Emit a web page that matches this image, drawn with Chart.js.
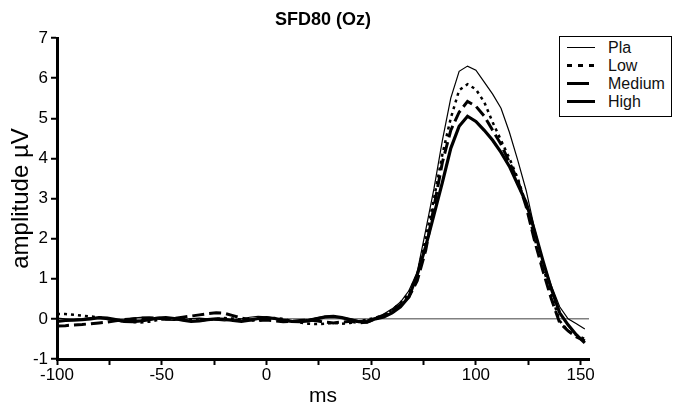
<!DOCTYPE html>
<html>
<head>
<meta charset="utf-8">
<script src="https://cdn.jsdelivr.net/npm/chart.js@4.4.0/dist/chart.umd.min.js"></script>
<style>
  html, body { margin: 0; padding: 0; background: #fff; }
  #wrap { position: relative; width: 676px; height: 409px; }
  #legend {
    position: absolute; left: 559px; top: 36px; width: 113px; height: 81px;
    box-sizing: border-box; border: 1.5px solid #000; background: #fff;
    font-family: "Liberation Sans", Arial, Helvetica, sans-serif; font-size: 16px; color: #111;
  }
  .row { position: absolute; left: 0; height: 18px; display: flex; align-items: center; }
  .swatch { width: 28px; margin-left: 7px; margin-right: 13px; background: #000; }
</style>
</head>
<body>
<div id="wrap">
  <canvas id="erp" width="676" height="409"></canvas>
  <div id="legend"></div>
</div>
<script>
// time axis (ms) and the four grand-average waveforms
var times = [-100,-96,-92,-88,-84,-80,-76,-72,-68,-64,-60,-56,-52,-48,-44,-40,-36,-32,-28,-24,-20,-16,-12,-8,-4,
             0,4,8,12,16,20,24,28,32,36,40,44,48,52,56,60,64,68,72,76,80,84,88,92,96,100,104,108,112,116,120,
             124,128,132,136,140,144,148,152];

var pla = [0.02,0.0,-0.02,0.0,0.03,0.02,-0.02,-0.04,-0.02,0.02,0.04,0.03,0.0,-0.03,-0.04,-0.02,0.01,0.02,0.0,-0.03,-0.05,-0.03,0.0,0.04,0.06,
           0.05,0.02,-0.02,-0.05,-0.04,-0.01,0.03,0.06,0.07,0.04,0.0,-0.04,-0.03,
           0.03,0.12,0.25,0.42,0.7,1.17,2.2,3.25,4.45,5.5,6.17,6.3,6.2,5.9,5.6,5.25,4.65,3.95,3.2,2.25,1.45,0.83,0.3,0.0,-0.12,-0.25];
var low = [0.12,0.12,0.1,0.08,0.06,0.04,0.0,-0.04,-0.06,-0.08,-0.09,-0.07,-0.03,0.0,0.02,0.0,-0.03,-0.04,-0.02,0.0,0.02,0.01,-0.02,-0.04,-0.03,
           0.0,0.02,0.0,-0.05,-0.09,-0.12,-0.13,-0.12,-0.1,-0.12,-0.1,-0.06,-0.02,
           0.03,0.1,0.22,0.4,0.65,1.1,2.0,3.0,4.1,5.0,5.7,5.85,5.72,5.4,4.9,4.45,4.0,3.5,2.85,2.0,1.3,0.6,-0.05,-0.3,-0.4,-0.5];
var medium = [-0.18,-0.17,-0.15,-0.14,-0.12,-0.1,-0.08,-0.05,-0.02,0.0,0.02,0.03,0.02,0.0,0.01,0.04,0.07,0.1,0.13,0.15,0.14,0.08,0.02,-0.02,-0.04,
              -0.03,-0.05,-0.07,-0.06,-0.04,-0.03,-0.05,-0.08,-0.1,-0.08,-0.06,-0.1,-0.08,
              0.0,0.08,0.2,0.35,0.55,0.95,1.7,2.8,3.9,4.7,5.15,5.42,5.3,5.05,4.7,4.35,3.9,3.45,2.8,1.95,1.2,0.5,-0.1,-0.3,-0.45,-0.55];
var high = [-0.06,-0.04,-0.03,-0.02,0.0,0.03,0.02,-0.02,-0.06,-0.07,-0.05,-0.02,0.02,0.03,0.01,-0.03,-0.06,-0.05,-0.02,0.0,-0.01,-0.04,-0.06,-0.03,0.01,
            0.03,0.01,-0.03,-0.06,-0.07,-0.05,0.0,0.05,0.06,0.03,-0.02,-0.07,-0.08,
            0.0,0.05,0.15,0.3,0.55,1.1,1.8,2.6,3.4,4.25,4.8,5.05,4.92,4.7,4.45,4.15,3.8,3.35,2.9,2.2,1.45,0.75,0.15,-0.15,-0.4,-0.6];

var xTicks = [-100,-75,-50,-25,0,25,50,75,100,125,150];
var yTicks = [-1,0,1,2,3,4,5,6,7];

var fam = '"Liberation Sans", Arial, Helvetica, sans-serif';

function pts(vals){
    return times.map(function(t, i){ return {x: t, y: vals[i]}; });
}

// legend swatches (css), order as in the figure
var legendRows = [
    {label: 'Pla',    css: 'height:1.3px;'},
    {label: 'Low',    css: 'height:2.6px;background:repeating-linear-gradient(to right,#000 0 5px,transparent 5px 11px);'},
    {label: 'Medium', css: 'height:3px;width:22px;margin-right:19px;'},
    {label: 'High',   css: 'height:3.6px;'}
];
var lg = document.getElementById('legend');
legendRows.forEach(function(r, i){
    var d = document.createElement('div');
    d.className = 'row';
    d.style.top = (1.5 + i * 18) + 'px';
    d.innerHTML = '<span class="swatch" style="' + r.css + '"></span><span>' + r.label + '</span>';
    lg.appendChild(d);
});

new Chart(document.getElementById('erp'), {
  type: 'line',
  data: {
    datasets: [
      { label: 'High',   data: pts(high),   borderColor: '#000', borderWidth: 3.2, fill: false },
      { label: 'Medium', data: pts(medium), borderColor: '#000', borderWidth: 3, borderDash: [12, 5], fill: false },
      { label: 'Low',    data: pts(low),    borderColor: '#000', borderWidth: 2.5, borderDash: [3, 4], fill: false },
      { label: 'Pla',    data: pts(pla),    borderColor: '#000', borderWidth: 1.2, fill: false }
    ]
  },
  options: {
    responsive: false,
    animation: false,
    elements: { point: { radius: 0 }, line: { tension: 0 } },
    layout: { padding: { left: 0, right: 87, top: 0, bottom: 0 } },
    plugins: {
      legend: { display: false },
      tooltip: { enabled: false },
      title: {
        display: true, text: 'SFD80 (Oz)', color: '#000', fullSize: false,
        font: { family: fam, size: 18, weight: 'bold' },
        padding: { top: 9, bottom: 7.4 }
      }
    },
    scales: {
      x: {
        type: 'linear', min: -100, max: 154,
        afterBuildTicks: function(s){ s.ticks = xTicks.map(function(v){ return {value: v}; }); },
        afterFit: function(s){ s.height = 50; },
        ticks: {
          color: '#000', font: { family: fam, size: 17 }, padding: 0, maxRotation: 0, autoSkip: false,
          callback: function(v){ return v % 50 === 0 ? String(v) : ''; }
        },
        grid: { drawOnChartArea: false, tickLength: 6, tickWidth: 2, tickColor: '#000' },
        border: { color: '#000', width: 3 },
        title: { display: true, text: 'ms', color: '#000', font: { family: fam, size: 21 }, padding: 0 }
      },
      y: {
        min: -1, max: 7,
        afterBuildTicks: function(s){ s.ticks = yTicks.map(function(v){ return {value: v}; }); },
        afterFit: function(s){ s.width = 57; },
        ticks: { color: '#000', font: { family: fam, size: 17 }, padding: 3 },
        grid: {
          color: function(c){ return c.tick && c.tick.value === 0 ? '#808080' : 'rgba(0,0,0,0)'; },
          lineWidth: 1.5, tickLength: 6, tickWidth: 2, tickColor: '#000'
        },
        border: { color: '#000', width: 3 },
        title: { display: true, text: 'amplitude µV', color: '#000', font: { family: fam, size: 24 }, padding: { top: 7, bottom: 0 } }
      }
    }
  }
});
</script>
</body>
</html>
